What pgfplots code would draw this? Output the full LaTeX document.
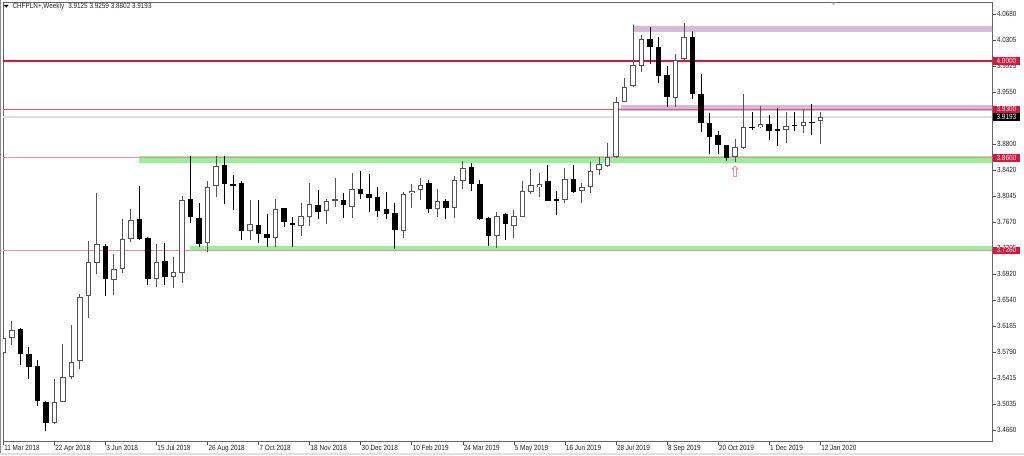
\documentclass[border=0pt]{standalone}
\usepackage{pgfplots}
\pgfplotsset{compat=1.18}
\usepackage{pgfplotstable}
\usepackage{fontspec}
\setmainfont{Liberation Sans}[FakeStretch=0.85]
\newfontfamily\dejavu{DejaVu Sans}
\definecolor{crim}{RGB}{220,20,60}
\definecolor{lgreen}{RGB}{152,240,152}
\definecolor{lpurple}{RGB}{214,186,214}
\definecolor{bidgray}{RGB}{222,222,222}
\definecolor{pinkline}{RGB}{238,140,160}
\definecolor{redline}{RGB}{225,90,115}
\definecolor{bullgray}{RGB}{85,85,85}
\definecolor{arrowred}{RGB}{240,100,125}

\pgfplotstableread{
x o h l c
0 3.5775 3.6093 3.5746 3.5992
1 3.5996 3.6238 3.5891 3.6108
6 3.4758 3.5395 3.4750 3.5066
7 3.5066 3.5901 3.5060 3.5432
8 3.5423 3.6185 3.5395 3.5645
9 3.5659 3.6629 3.5548 3.6590
10 3.6604 3.7400 3.6277 3.7087
11 3.7073 3.8095 3.6918 3.7348
13 3.6831 3.7208 3.6614 3.6986
14 3.6991 3.7718 3.6928 3.7425
15 3.7425 3.7854 3.7386 3.7695
18 3.6846 3.7352 3.6734 3.7092
20 3.6879 3.7169 3.6711 3.6947
21 3.6928 3.8047 3.6784 3.7989
24 3.7362 3.8268 3.7240 3.8173
25 3.8192 3.8626 3.8037 3.8481
29 3.7536 3.7989 3.7410 3.7642
32 3.7443 3.7999 3.7304 3.7854
35 3.7613 3.7950 3.7472 3.7762
36 3.7747 3.8239 3.7613 3.7927
38 3.7830 3.7999 3.7642 3.7975
39 3.7975 3.8303 3.7892 3.7999
41 3.7883 3.8384 3.7724 3.8144
47 3.7540 3.8110 3.7435 3.8076
48 3.8086 3.8220 3.7869 3.8123
49 3.8134 3.8303 3.7989 3.8202
51 3.7854 3.8144 3.7747 3.7975
53 3.7869 3.8336 3.7724 3.8278
54 3.8268 3.8558 3.8144 3.8456
58 3.7472 3.7820 3.7290 3.7757
60 3.7617 3.7844 3.7435 3.7757
61 3.7747 3.8264 3.7747 3.8120
62 3.8100 3.8438 3.8076 3.8206
63 3.8173 3.8384 3.8037 3.8220
66 3.7985 3.8456 3.7941 3.8289
68 3.8115 3.8239 3.7941 3.8173
69 3.8173 3.8543 3.8086 3.8413
70 3.8423 3.8607 3.8350 3.8506
71 3.8481 3.8809 3.8470 3.8607
72 3.8616 3.9484 3.8592 3.9410
73 3.9410 3.9750 3.9400 3.9628
74 3.9639 4.0521 3.9620 3.9942
75 3.9932 4.0377 3.9845 4.0319
79 3.9469 4.0097 3.9339 4.0015
80 4.0025 4.0546 4.0015 4.0352
86 3.8607 3.8867 3.8543 3.8752
87 3.8737 3.9519 3.8730 3.9041
89 3.9041 3.9349 3.9038 3.9089
92 3.9002 3.9258 3.8809 3.9064
94 3.9060 3.9310 3.8954 3.9113
96 3.9125 3.9259 3.8802 3.9193
}\bull

\pgfplotstableread{
x o h l c
2 3.6118 3.6137 3.5602 3.5761
3 3.5761 3.5858 3.5395 3.5577
4 3.5591 3.5674 3.5008 3.5081
5 3.5066 3.5081 3.4650 3.4758
12 3.7323 3.7348 3.6604 3.6846
16 3.7718 3.8192 3.7410 3.7425
17 3.7435 3.7450 3.6759 3.6842
19 3.7102 3.7362 3.6759 3.6875
22 3.7999 3.8626 3.7661 3.7739
23 3.7729 3.7950 3.7313 3.7352
26 3.8495 3.8626 3.7931 3.8216
27 3.8218 3.8350 3.7844 3.8205
28 3.8230 3.8264 3.7410 3.7540
30 3.7627 3.7989 3.7362 3.7497
31 3.7493 3.7786 3.7304 3.7443
33 3.7869 3.7874 3.7594 3.7666
34 3.7661 3.7739 3.7313 3.7623
37 3.7912 3.8134 3.7710 3.7820
40 3.7989 3.8095 3.7733 3.7917
42 3.8144 3.8413 3.7999 3.8076
43 3.8076 3.8361 3.7820 3.8022
44 3.8028 3.8173 3.7739 3.7834
45 3.7859 3.8110 3.7710 3.7786
46 3.7796 3.7950 3.7276 3.7555
50 3.8230 3.8278 3.7796 3.7854
52 3.7975 3.7999 3.7714 3.7869
55 3.8462 3.8520 3.8124 3.8216
56 3.8216 3.8278 3.7700 3.7710
57 3.7733 3.7748 3.7323 3.7472
59 3.7786 3.7796 3.7410 3.7637
64 3.8264 3.8495 3.7970 3.7979
65 3.7997 3.8120 3.7772 3.7992
67 3.8293 3.8495 3.8095 3.8110
76 4.0314 4.0488 3.9957 4.0199
77 4.0207 4.0343 3.9678 3.9783
78 3.9798 3.9932 3.9339 3.9475
81 4.0352 4.0439 3.9446 3.9518
82 3.9523 3.9812 3.8977 3.9099
83 3.9107 3.9244 3.8655 3.8896
84 3.8930 3.8987 3.8655 3.8785
85 3.8785 3.8790 3.8558 3.8592
88 3.9045 3.9258 3.9002 3.9041
90 3.9089 3.9219 3.8857 3.8992
91 3.9005 3.9316 3.8770 3.9002
93 3.9079 3.9258 3.8992 3.9060
95 3.9115 3.9378 3.8930 3.9110
}\bear

\pgfplotsset{candle/.style={draw=none, mark=none, forget plot, error bars/.cd, y dir=both, y explicit, error mark=none}}

\begin{document}
\begin{tikzpicture}
\fill[white] (-3pt,-14pt) rectangle (1021pt,441pt);
\begin{axis}[
  at={(0pt,0pt)}, anchor=south west,
  scale only axis, width=989pt, height=439pt,
  xmin=-0.035, xmax=116.18, ymin=3.4502, ymax=4.0854,
  axis line style={draw=black!60, line width=0.8pt},
  tick align=outside, major tick length=3.5pt,
  tick style={draw=black!70, line width=0.6pt},
  ytick={4.068,4.0305,3.9925,3.955,3.9175,3.88,3.842,3.8045,3.767,3.7295,3.692,3.654,3.6165,3.579,3.5415,3.5035,3.466},
  ytick pos=right, yticklabel pos=right,
  yticklabel style={anchor=west, inner sep=0pt, xshift=1.3pt, font=\fontsize{7.5}{9}\selectfont, text=black!85,
    /pgf/number format/fixed, /pgf/number format/fixed zerofill, /pgf/number format/precision=4, /pgf/number format/assume math mode=true},
  xtick={0,6,...,96}, xtick pos=bottom,
  xticklabels={11 Mar 2018,22 Apr 2018,3 Jun 2018,15 Jul 2018,26 Aug 2018,7 Oct 2018,18 Nov 2018,30 Dec 2018,10 Feb 2019,24 Mar 2019,5 May 2019,16 Jun 2019,28 Jul 2019,8 Sep 2019,20 Oct 2019,1 Dec 2019,12 Jan 2020},
  xticklabel style={anchor=north west, inner sep=0pt, xshift=0.8pt, yshift=-0.2pt, font=\fontsize{7.5}{9}\selectfont, text=black!85},
  clip=true,
]
% bands
\fill[lpurple] (axis cs:74.11,4.0424) rectangle (axis cs:117,4.0507);
\fill[lpurple] (axis cs:72.53,3.9277) rectangle (axis cs:117,3.9364);
\fill[lgreen] (axis cs:15.95,3.8524) rectangle (axis cs:117,3.8626);
\fill[lgreen] (axis cs:21.97,3.7250) rectangle (axis cs:117,3.7330);
% horizontal lines
\addplot[bidgray, line width=2pt, forget plot] coordinates {(-1,3.9193) (117,3.9193)};
\addplot[crim, line width=2.2pt, forget plot] coordinates {(-1,4.0) (117,4.0)};
\addplot[redline, line width=1pt, forget plot] coordinates {(-1,3.93) (117,3.93)};
\addplot[pinkline, line width=1pt, forget plot] coordinates {(-1,3.86) (117,3.86)};
\addplot[pinkline, line width=1pt, forget plot] coordinates {(-1,3.7262) (117,3.7262)};
% bull candles
\addplot[candle, error bar style={line width=1pt, draw=bullgray}]
  table[x=x, y expr={(\thisrow{h}+\thisrow{l})/2}, y error expr={(\thisrow{h}-\thisrow{l})/2}] {\bull};
\addplot[candle, error bar style={line width=5.5pt, draw=bullgray}]
  table[x=x, y expr={(\thisrow{o}+\thisrow{c})/2}, y error expr={max(abs(\thisrow{c}-\thisrow{o})/2,0.0007)}] {\bull};
\addplot[candle, error bar style={line width=3.5pt, draw=white}]
  table[x=x, y expr={(\thisrow{o}+\thisrow{c})/2}, y error expr={max(abs(\thisrow{c}-\thisrow{o})/2-0.00145,0)}] {\bull};
% bear candles
\addplot[candle, error bar style={line width=1pt, draw=black}]
  table[x=x, y expr={(\thisrow{h}+\thisrow{l})/2}, y error expr={(\thisrow{h}-\thisrow{l})/2}] {\bear};
\addplot[candle, error bar style={line width=5.5pt, draw=black}]
  table[x=x, y expr={(\thisrow{o}+\thisrow{c})/2}, y error expr={max(abs(\thisrow{c}-\thisrow{o})/2,0.0007)}] {\bear};
% arrow annotation
\node[text=arrowred, font=\dejavu\fontsize{15}{15}\selectfont, inner sep=0pt] at (axis cs:86,3.8394) {⇧};
% label anchors
\coordinate (rA) at (axis cs:116.18,4.0);
\coordinate (rB) at (axis cs:116.18,3.93);
\coordinate (rC) at (axis cs:116.18,3.9193);
\coordinate (rD) at (axis cs:116.18,3.86);
\coordinate (rE) at (axis cs:116.18,3.726);
\end{axis}
\tikzset{pricebox/.style={anchor=west, inner sep=0pt, minimum width=27pt, minimum height=7.5pt, text=white, font=\fontsize{7.5}{9}\selectfont}}
\node[pricebox, fill=crim] at ([xshift=0.7pt]rA) {4.0000};
\node[pricebox, fill=crim] at ([xshift=0.7pt]rB) {3.9300};
\node[pricebox, fill=black] at ([xshift=0.7pt]rC) {3.9193};
\node[pricebox, fill=crim] at ([xshift=0.7pt]rD) {3.8600};
\node[pricebox, fill=crim] at ([xshift=0.7pt]rE) {3.7260};
% header
\fill[black] (1pt,436pt) -- (5.5pt,436pt) -- (3.25pt,433.3pt) -- cycle;
\node[anchor=west, inner sep=0pt, font=\fontsize{7.5}{9}\selectfont, text=black!85] at (9.3pt,434pt) {CHFPLN+,Weekly\hspace{4pt}3.9125 3.9259 3.8802 3.9193};
\fill[black!25] (828pt,438.3pt) -- (832.7pt,438.3pt) -- (830.35pt,435.7pt) -- cycle;
% window frame
\draw[black!45, line width=0.8pt] (-2.6pt,-12pt) -- (-2.6pt,441pt);
\fill[black!12] (-3pt,-14pt) rectangle (1021pt,-12pt);
\pgfresetboundingbox
\path[use as bounding box] (-3pt,-14pt) rectangle (1021pt,441pt);
\end{tikzpicture}
\end{document}
